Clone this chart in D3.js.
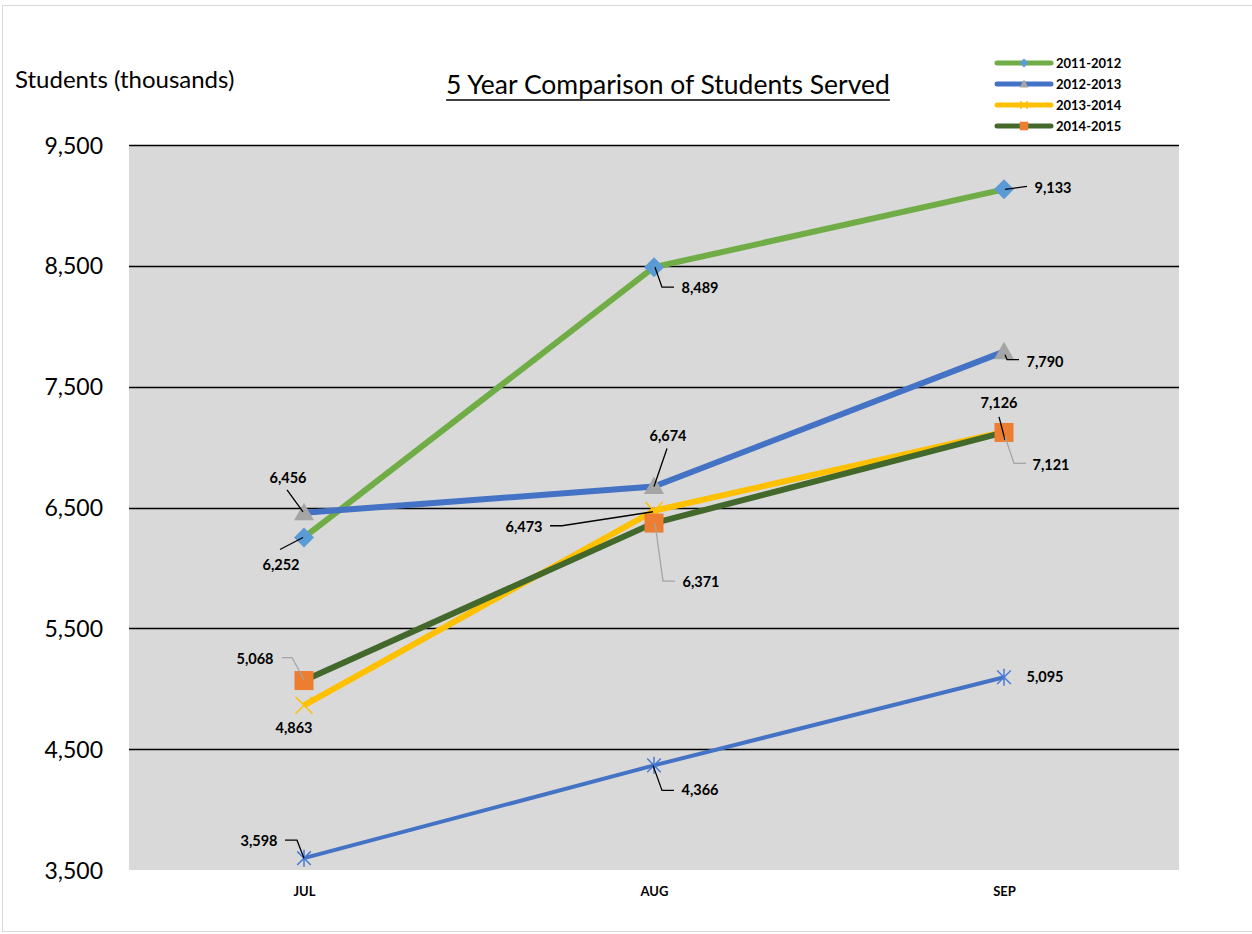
<!DOCTYPE html>
<html><head><meta charset="utf-8">
<script src="https://cdn.jsdelivr.net/npm/d3@7"></script>
<style>
body{margin:0;background:#fff}
text{font-family:Lato,"Open Sans",sans-serif}
</style>
</head><body>
<svg id="chart" width="1252" height="934"></svg>
<script>
// Monthly students served (thousands), one array per school year
const months = ["JUL", "AUG", "SEP"];
const values2011 = [6252, 8489, 9133];
const values2012 = [6456, 6674, 7790];
const values2013 = [4863, 6473, 7126];
const values2014 = [5068, 6371, 7121];
const valuesCurrent = [3598, 4366, 5095];
const yTicks = [3500, 4500, 5500, 6500, 7500, 8500, 9500];
const legendNames = ["2011-2012", "2012-2013", "2013-2014", "2014-2015"];

// Styling for each series
const series = [
  {name: legendNames[0], values: values2011, line: "#70ad47", width: 6, marker: "diamond", fill: "#5b9bd5", legend: true},
  {name: legendNames[1], values: values2012, line: "#4472c4", width: 6, marker: "triangle", fill: "#a5a5a5", legend: true},
  {name: legendNames[2], values: values2013, line: "#ffc000", width: 6, marker: "cross", fill: "#ffc000", legend: true},
  {name: legendNames[3], values: values2014, line: "#43682b", width: 6, marker: "square", fill: "#ed7d31", legend: true},
  {name: "current", values: valuesCurrent, line: "#4472c4", width: 4, marker: "star", fill: "#4a7bd6", legend: false}
];

// Data-label placement: text offset from the point, plus optional leader path (relative to the point)
const labelLayout = [
  [{dx:-23,dy:27,lead:[[-24,12],[-1,0]]}, {dx:46,dy:21,lead:[[1,0],[8,20],[20,20]]}, {dx:49,dy:-1,lead:[[1,0],[23,-3]]}],
  [{dx:-16,dy:-35,lead:[[-17,-23],[-1,-1]]}, {dx:14,dy:-51,lead:[[13,-38],[0,0]]}, {dx:41,dy:10,lead:[[1,3],[3,8],[15,8]]}],
  [{dx:-10,dy:23}, {dx:-130,dy:16,lead:[[-104,15],[-92,15],[-1,1]]}, {dx:-5,dy:-29,lead:[[-5,-15],[1,8]]}],
  [{dx:-49,dy:-22,lead:[[-22,-23],[-12,-23],[0,-1]],gray:true}, {dx:47,dy:59,lead:[[1,0],[9,58],[21,58]],gray:true}, {dx:47,dy:32,lead:[[1,4],[10,31],[22,31]],gray:true}],
  [{dx:-45,dy:-17,lead:[[-19,-18],[-7,-18],[0,0]]}, {dx:46,dy:25,lead:[[-1,0],[8,25],[20,25]]}, {dx:41,dy:0}]
];

const svg = d3.select("#chart");
const plot = {left: 129, right: 1179, top: 145, bottom: 870};

// outer chart frame
svg.append("rect").attr("x", 2.5).attr("y", 5.5).attr("width", 1300).attr("height", 926)
  .attr("fill", "#fff").attr("stroke", "#d9d9d9").attr("stroke-width", 1);

const x = d3.scalePoint().domain(months).range([plot.left, plot.right]).padding(0.5);
const y = d3.scaleLinear().domain([3500, 9500]).range([plot.bottom, plot.top]);

// plot background
svg.append("rect").attr("x", plot.left).attr("y", plot.top)
  .attr("width", plot.right - plot.left).attr("height", plot.bottom - plot.top)
  .attr("fill", "#d9d9d9");

// gridlines
svg.append("g").selectAll("line").data(yTicks.filter(d => d > 3500)).join("line")
  .attr("x1", plot.left).attr("x2", plot.right)
  .attr("y1", d => Math.round(y(d)) + 0.5).attr("y2", d => Math.round(y(d)) + 0.5)
  .attr("stroke", "#000").attr("stroke-width", 1.5);

// y axis
const yAxis = svg.append("g").attr("transform", `translate(${plot.left - 26},0)`)
  .call(d3.axisLeft(y).tickValues(yTicks).tickFormat(d3.format(",")).tickSize(0).tickPadding(0));
yAxis.select(".domain").remove();
yAxis.selectAll("text").attr("font-size", 23).attr("fill", "#000").attr("dy", "0.35em")
  .style("font-family", "Lato, 'Open Sans', sans-serif");

// x axis
const xAxis = svg.append("g").attr("transform", `translate(0,${plot.bottom + 21})`)
  .call(d3.axisBottom(x).tickSize(0).tickPadding(0));
xAxis.select(".domain").remove();
xAxis.selectAll("text").attr("font-size", 13).attr("font-weight", "bold").attr("fill", "#000")
  .attr("dy", "0.35em").style("font-family", "Lato, 'Open Sans', sans-serif");

// titles
svg.append("text").attr("x", 15).attr("y", 88).attr("font-size", 24).attr("fill", "#000")
  .text("Students (thousands)");
const title = svg.append("text").attr("x", 668).attr("y", 94).attr("text-anchor", "middle")
  .attr("font-size", 26.5).attr("fill", "#000").text("5 Year Comparison of Students Served");
const tw = title.node().getComputedTextLength();
svg.append("line").attr("x1", 668 - tw / 2).attr("x2", 668 + tw / 2)
  .attr("y1", 100).attr("y2", 100).attr("stroke", "#000").attr("stroke-width", 1.4);

// marker drawing
function drawMarker(g, type, cx, cy, size, color) {
  const h = size / 2;
  if (type === "diamond") {
    g.append("path").attr("d", `M${cx},${cy - h}L${cx + h},${cy}L${cx},${cy + h}L${cx - h},${cy}Z`).attr("fill", color);
  } else if (type === "triangle") {
    g.append("path").attr("d", `M${cx},${cy - h}L${cx + h},${cy + h * 0.75}L${cx - h},${cy + h * 0.75}Z`).attr("fill", color);
  } else if (type === "square") {
    const s = size * 0.95;
    g.append("rect").attr("x", cx - s / 2).attr("y", cy - s / 2).attr("width", s).attr("height", s).attr("fill", color);
  } else if (type === "cross") {
    const k = h * 0.85;
    g.append("path").attr("d", `M${cx - k},${cy - k}L${cx + k},${cy + k}M${cx - k},${cy + k}L${cx + k},${cy - k}`)
      .attr("stroke", color).attr("stroke-width", 1.5);
  } else if (type === "star") {
    const k = h * 0.8;
    g.append("path").attr("d", `M${cx - k},${cy - k}L${cx + k},${cy + k}M${cx - k},${cy + k}L${cx + k},${cy - k}M${cx},${cy - h}L${cx},${cy + h}`)
      .attr("stroke", color).attr("stroke-width", 1.5);
  }
}

const line = d3.line().x((d, i) => x(months[i])).y(d => y(d));

// series lines and markers
const order = [4, 0, 1, 2, 3];
order.forEach(si => {
  const s = series[si];
  const g = svg.append("g");
  g.append("path").attr("d", line(s.values)).attr("fill", "none")
    .attr("stroke", s.line).attr("stroke-width", s.width).attr("stroke-linejoin", "round");
  s.values.forEach((v, i) => {
    const size = s.marker === "star" ? 17 : 20;
    drawMarker(g, s.marker, x(months[i]), y(v), size, s.fill);
  });
});

// data labels with leader lines
const fmt = d3.format(",");
series.forEach((s, si) => {
  s.values.forEach((v, i) => {
    const px = x(months[i]), py = y(v);
    const L = labelLayout[si][i];
    if (L.lead) {
      svg.append("path").attr("d", "M" + L.lead.map(p => `${px + p[0]},${py + p[1]}`).join("L"))
        .attr("fill", "none").attr("stroke", L.gray ? "#a5a5a5" : "#000").attr("stroke-width", 1.3);
    }
    svg.append("text").attr("x", px + L.dx).attr("y", py + L.dy).attr("dy", "0.35em")
      .attr("text-anchor", "middle").attr("font-size", 14.5).attr("font-weight", "bold")
      .attr("fill", "#000").text(fmt(v));
  });
});

// legend
const legend = svg.append("g");
series.filter(s => s.legend).forEach((s, i) => {
  const ly = 63 + i * 21;
  legend.append("line").attr("x1", 997).attr("x2", 1051).attr("y1", ly).attr("y2", ly)
    .attr("stroke", s.line).attr("stroke-width", 5).attr("stroke-linecap", "round");
  drawMarker(legend, s.marker, 1024, ly, 9, s.fill);
  legend.append("text").attr("x", 1056).attr("y", ly).attr("dy", "0.35em")
    .attr("font-size", 13).attr("font-weight", "bold").attr("fill", "#000").text(s.name);
});
</script>
</body></html>
